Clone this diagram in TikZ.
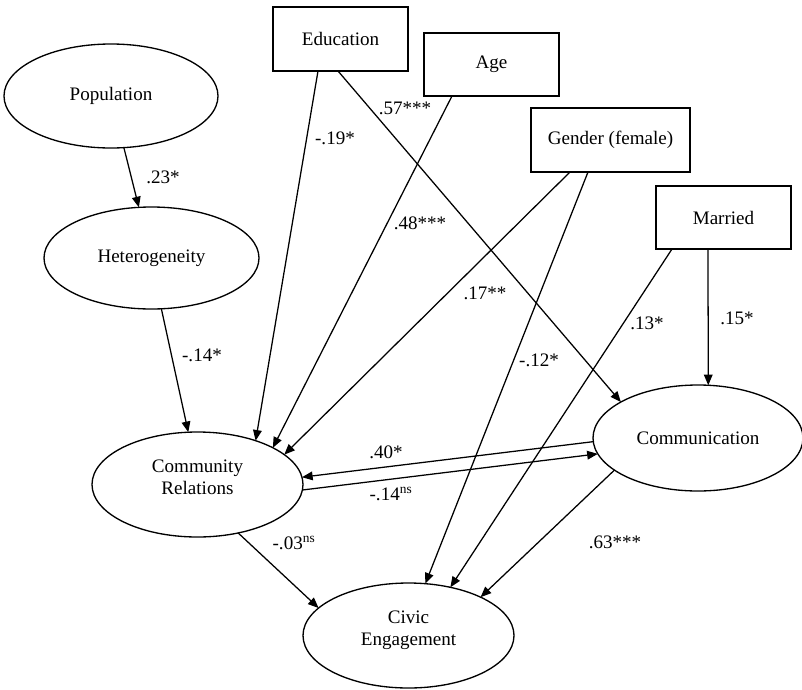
\documentclass[tikz,border=0pt]{standalone}
\usepackage{fontspec}
\setmainfont{Liberation Serif}
\usetikzlibrary{shapes.geometric,arrows.meta,calc}
\begin{document}
\begin{tikzpicture}[x=0.75pt,y=-0.75pt,
  every node/.style={font=\fontsize{14.3}{16.5}\selectfont},
  varbox/.style={draw,line width=1pt,rectangle,inner sep=0pt,outer sep=0pt},
  latent/.style={draw,line width=1pt,ellipse,inner sep=0pt,outer sep=0pt,align=center},
  inside/.style={align=center,inner sep=0pt},
  path/.style={line width=0.95pt,-{Triangle[length=8pt,width=6.5pt]}},
  coef/.style={inner sep=0pt}]
\useasboundingbox (0,0) rectangle (802,689);
% boxes
\node[varbox,minimum width=101.25pt,minimum height=48pt] (edu) at (340.5,39) {Education};
\node[varbox,minimum width=101.25pt,minimum height=47.25pt] (age) at (491.5,64.5) {Age};
\node[varbox,minimum width=119.25pt,minimum height=48pt] (gen) at (610.5,140) {Gender (female)};
\node[varbox,minimum width=101.25pt,minimum height=47.25pt] (mar) at (723.5,217.5) {Married};
% ellipses
\node[latent,minimum width=160.5pt,minimum height=78pt] (pop) at (111,96) {Population};
\node[latent,minimum width=161.25pt,minimum height=76.5pt] (het) at (151.5,258) {Heterogeneity};
\node[latent,minimum width=158.25pt,minimum height=78.75pt] (com) at (197.5,484.5) {};
\node[inside] (comtext) at (197.5,477) {Community\\Relations};
\node[latent,minimum width=157.5pt,minimum height=79.5pt] (cmm) at (698,438) {Communication};
\node[latent,minimum width=158.25pt,minimum height=78.75pt] (civ) at (408.5,635.5) {};
\node[inside] (civtext) at (408.5,630) {Civic\\Engagement};
% paths
\draw[path] (pop.-76.5) -- (het.104.6);
\draw[path] (het.-79) -- (com.100);
\draw[path] ($(edu.south)+(-22.5,0)$) -- (com.37);
\draw[path] ($(edu.south)+(-2.5,0)$) -- (cmm.155.5);
\draw[path] ($(age.south)+(-39.5,0)$) -- (com.26.4);
\draw[path] ($(gen.south)+(-40.5,0)$) -- (com.19);
\draw[path] ($(gen.south)+(-22.5,0)$) -- (civ.72);
\draw[path] ($(mar.south)+(-51.5,0)$) -- (civ.49);
\draw[path] ($(mar.south)+(-15.5,0)$) -- (cmm.79);
\draw[path] (cmm.182) -- (com.4);
\draw[path] (com.-3) -- (cmm.189);
\draw[path] (com.-50) -- (civ.163);
\draw[path] (cmm.201) -- (civ.28.6);
% coefficients
\node[coef] (l1) at (163,177) {.23*};
\node[coef] (l2) at (202,355) {-.14*};
\node[coef] (l3) at (335,138) {-.19*};
\node[coef] (l4) at (405,108) {.57***};
\node[coef] (l5) at (420,223) {.48***};
\node[coef] (l6) at (485,293) {.17**};
\node[coef] (l7) at (539,360) {-.12*};
\node[coef] (l8) at (647,323) {.13*};
\node[coef] (l9) at (737,318) {.15*};
\node[coef] (l10) at (386,452) {.40*};
\node[coef] (l11) at (391,494) {-.14\textsuperscript{ns}};
\node[coef] (l12) at (294,543) {-.03\textsuperscript{ns}};
\node[coef] (l13) at (615,542) {.63***};
\end{tikzpicture}
\end{document}
